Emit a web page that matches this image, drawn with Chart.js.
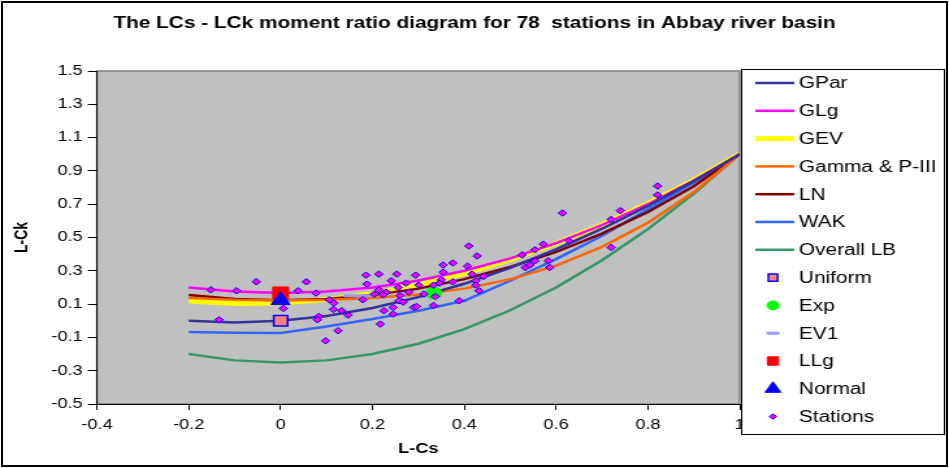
<!DOCTYPE html>
<html>
<head>
<meta charset="utf-8">
<title>L-moment ratio diagram</title>
<script src="https://cdn.jsdelivr.net/npm/chart.js@4.4.1/dist/chart.umd.min.js"></script>
<style>
    html, body { margin: 0; padding: 0; background: #fff; }
    #stretch { position: absolute; left: 0; top: 0; width: 730px; height: 468px; transform: scaleX(1.3); transform-origin: 0 0; }
    #frame { position: absolute; left: 1px; top: 1px; width: 943px; height: 462px; border: 2px solid #000; pointer-events: none; }
    canvas { display: block; }
</style>
</head>
<body>
<div id="stretch"><canvas id="chart" width="730" height="468"></canvas></div>
<div id="frame"></div>
<script>
const chartTitle = "The LCs - LCk moment ratio diagram for 78  stations in Abbay river basin";

// theoretical curves, read every 0.1 of L-Cs
const lcsGrid = [-0.2, -0.1, 0, 0.1, 0.2, 0.3, 0.4, 0.5, 0.6, 0.7, 0.8, 0.9, 1.0];
const gparCk  = [0.0, -0.010, 0.0, 0.029, 0.077, 0.142, 0.222, 0.318, 0.429, 0.553, 0.690, 0.839, 1.0];
const glgCk   = [0.2, 0.175, 0.167, 0.175, 0.2, 0.242, 0.3, 0.375, 0.467, 0.575, 0.7, 0.842, 1.0];
const gevCk   = [0.119, 0.104, 0.107, 0.127, 0.163, 0.215, 0.283, 0.366, 0.464, 0.576, 0.703, 0.844, 1.0];
const pe3Ck   = [0.136, 0.126, 0.122, 0.126, 0.136, 0.157, 0.193, 0.249, 0.331, 0.444, 0.589, 0.773, 1.0];
const lnCk    = [0.154, 0.131, 0.123, 0.131, 0.154, 0.193, 0.250, 0.323, 0.413, 0.523, 0.653, 0.808, 1.0];
const wakCk   = [-0.068, -0.072, -0.074, -0.035, 0.01, 0.06, 0.12, 0.24, 0.37, 0.51, 0.67, 0.83, 1.0];
const lbCk    = [-0.2, -0.238, -0.25, -0.238, -0.2, -0.138, -0.05, 0.063, 0.2, 0.363, 0.55, 0.763, 1.0];

// two-parameter distributions
const pointNames = ["Uniform", "Exp", "EV1", "LLg", "Normal"];
const pointLcs = [0, 0.3333, 0.1699, 0, 0];
const pointLck = [0, 0.1667, 0.1504, 0.1667, 0.1226];

// at-site sample ratios
const stationLcs = [-0.152, -0.096, -0.053, -0.134, 0.006, 0.038, 0.056, 0.077, 0.106, 0.116, 0.115, 0.133, 0.147, 0.083, 0.080, 0.125, 0.098,
    0.186, 0.214, 0.253, 0.188, 0.241, 0.273, 0.256, 0.214, 0.230, 0.204, 0.223, 0.260, 0.279, 0.179, 0.258, 0.267, 0.245, 0.225, 0.245, 0.217,
    0.294, 0.301, 0.312, 0.290, 0.296,
    0.410, 0.428, 0.354, 0.375, 0.407, 0.354, 0.417, 0.442, 0.350, 0.375, 0.346, 0.333, 0.425, 0.425, 0.432, 0.337, 0.389, 0.333, 0.526, 0.554, 0.533, 0.543, 0.554,
    0.821, 0.821, 0.614, 0.740, 0.720, 0.628, 0.572, 0.720, 0.583, 0.586];
const stationLck = [0.186, 0.180, 0.234, 0.006, 0.074, 0.180, 0.234, 0.166, 0.126, 0.106, 0.068, 0.060, 0.034, 0.026, 0.006, -0.060, -0.120,
    0.274, 0.280, 0.280, 0.220, 0.240, 0.226, 0.200, 0.186, 0.172, 0.160, 0.156, 0.152, 0.172, 0.126, 0.120, 0.112, 0.080, 0.060, 0.040, -0.020,
    0.274, 0.214, 0.160, 0.080, 0.086,
    0.449, 0.389, 0.335, 0.347, 0.328, 0.292, 0.280, 0.266, 0.246, 0.234, 0.226, 0.214, 0.240, 0.214, 0.180, 0.146, 0.120, 0.092, 0.395, 0.426, 0.320, 0.335, 0.360,
    0.809, 0.755, 0.647, 0.661, 0.608, 0.480, 0.460, 0.440, 0.360, 0.320];

const xTicks = [-0.4, -0.2, 0, 0.2, 0.4, 0.6, 0.8, 1.0];
const yTicks = [-0.5, -0.3, -0.1, 0.1, 0.3, 0.5, 0.7, 0.9, 1.1, 1.3, 1.5];

const FONT = '"Liberation Sans", Arial, sans-serif';

function toXY(xs, ys) {
    return xs.map((x, i) => ({ x: x, y: ys[i] }));
}

function curve(label, ys, color, width, order) {
    return {
        label: label, data: toXY(lcsGrid, ys), showLine: true, tension: 0,
        borderColor: color, backgroundColor: color, borderWidth: width,
        pointRadius: 0, pointHoverRadius: 0, order: order
    };
}

function marker(i, style, radius, fill, border, bw, legendRadius, order) {
    return {
        label: pointNames[i], data: [{ x: pointLcs[i], y: pointLck[i] }], showLine: false,
        pointStyle: style, pointRadius: radius, backgroundColor: fill, borderColor: border,
        pointBorderWidth: bw, borderWidth: bw, legendRadius: legendRadius, order: order
    };
}

const datasets = [
    curve("GPar", gparCk, "#333399", 2.5, 5),
    curve("GLg", glgCk, "#ff00ff", 2.5, 5),
    curve("GEV", gevCk, "#ffff00", 5, 9),
    curve("Gamma & P-III", pe3Ck, "#ff6600", 2.5, 5),
    curve("LN", lnCk, "#800000", 2.5, 5),
    curve("WAK", wakCk, "#3366ff", 2.5, 5),
    curve("Overall LB", lbCk, "#339966", 2.5, 5),
    marker(0, "rect", 7.5, "#ff8080", "#0000ff", 1.5, 5, 3),
    marker(1, "circle", 6, "#00ff00", "#00ff00", 1, 4.5, 3),
    marker(2, "line", 11.5, "#9999ff", "#9999ff", 3, 5, 3),
    marker(3, "rect", 8.5, "#ff0000", "#ff0000", 1, 6, 2),
    marker(4, "triangle", 8.5, "#0000ff", "#0000ff", 1, 7, 1),
    {
        label: "Stations", data: toXY(stationLcs, stationLck), showLine: false,
        pointStyle: "rectRot", pointRadius: 3.2, backgroundColor: "#ff00ff", borderColor: "#0000ff",
        pointBorderWidth: 1, borderWidth: 1, legendRadius: 2.8, order: 0
    }
];

// grey plot area with a dark frame, and the title across the whole picture
const plotBackground = {
    id: "plotBackground",
    beforeDraw(chart) {
        const { ctx, chartArea: a } = chart;
        ctx.save();
        ctx.fillStyle = "#c0c0c0";
        ctx.fillRect(a.left, a.top, a.right - a.left, a.bottom - a.top);
        ctx.strokeStyle = "#808080";
        ctx.lineWidth = 1.5;
        ctx.strokeRect(a.left, a.top, a.right - a.left, a.bottom - a.top);
        ctx.fillStyle = "#000";
        ctx.font = "bold 16px " + FONT;
        ctx.textAlign = "center";
        ctx.textBaseline = "middle";
        ctx.fillText(chartTitle, chart.width / 2, 24);
        ctx.restore();
    }
};

// boxed legend overlapping the right edge, like the spreadsheet one
const boxLegend = {
    id: "boxLegend",
    afterDraw(chart) {
        const ctx = chart.ctx;
        ctx.save();
        ctx.fillStyle = "#fff";
        ctx.fillRect(570, 69, 156, 365);
        ctx.strokeStyle = "#000";
        ctx.lineWidth = 1;
        ctx.strokeRect(570.5, 69.5, 156, 365);
        ctx.font = "16px " + FONT;
        ctx.textBaseline = "middle";
        chart.data.datasets.forEach((ds, i) => {
            const y = 83 + i * 27.8;
            ctx.save();
            if (ds.showLine) {
                ctx.strokeStyle = ds.borderColor;
                ctx.lineWidth = ds.borderWidth;
                ctx.beginPath();
                ctx.moveTo(581, y);
                ctx.lineTo(611, y);
                ctx.stroke();
            } else {
                ctx.fillStyle = ds.backgroundColor;
                ctx.strokeStyle = ds.borderColor;
                ctx.lineWidth = ds.borderWidth;
                Chart.helpers.drawPoint(ctx, {
                    pointStyle: ds.pointStyle, radius: ds.legendRadius, rotation: 0, borderWidth: ds.borderWidth
                }, 594.6, y);
            }
            ctx.restore();
            ctx.fillStyle = "#000";
            ctx.fillText(ds.label, 614.6, y + 1);
        });
        ctx.restore();
    }
};

new Chart(document.getElementById("chart"), {
    type: "scatter",
    data: { datasets: datasets },
    options: {
        responsive: false,
        animation: false,
        layout: { padding: { left: 0, right: 161, top: 71, bottom: 0 } },
        plugins: {
            legend: { display: false },
            tooltip: { enabled: false },
            title: { display: false }
        },
        scales: {
            x: {
                type: "linear", min: -0.4, max: 1.0,
                afterBuildTicks: s => { s.ticks = xTicks.map(v => ({ value: v })); },
                afterFit: s => { s.height = 64; },
                ticks: { color: "#000", padding: 7, font: { family: FONT, size: 14 }, callback: v => String(Math.round(v * 10) / 10) },
                grid: { drawOnChartArea: false, drawTicks: true, tickLength: 6, color: "#000" },
                border: { display: true, color: "#000", width: 1 },
                title: { display: true, text: "L-Cs", color: "#000", font: { family: FONT, size: 14, weight: "bold" }, padding: { top: 0, bottom: 10 } }
            },
            y: {
                type: "linear", min: -0.5, max: 1.5,
                afterBuildTicks: s => { s.ticks = yTicks.map(v => ({ value: v })); },
                afterFit: s => { s.width = 74.6; },
                ticks: { color: "#000", padding: 4, font: { family: FONT, size: 14 }, callback: v => v.toFixed(1) },
                grid: { drawOnChartArea: false, drawTicks: true, tickLength: 7, color: "#000" },
                border: { display: true, color: "#000", width: 1 },
                title: { display: true, text: "L-Ck", color: "#000", font: { family: FONT, size: 14, weight: "bold" }, padding: { top: 9, bottom: 0 } }
            }
        }
    },
    plugins: [plotBackground, boxLegend]
});
</script>
</body>
</html>
